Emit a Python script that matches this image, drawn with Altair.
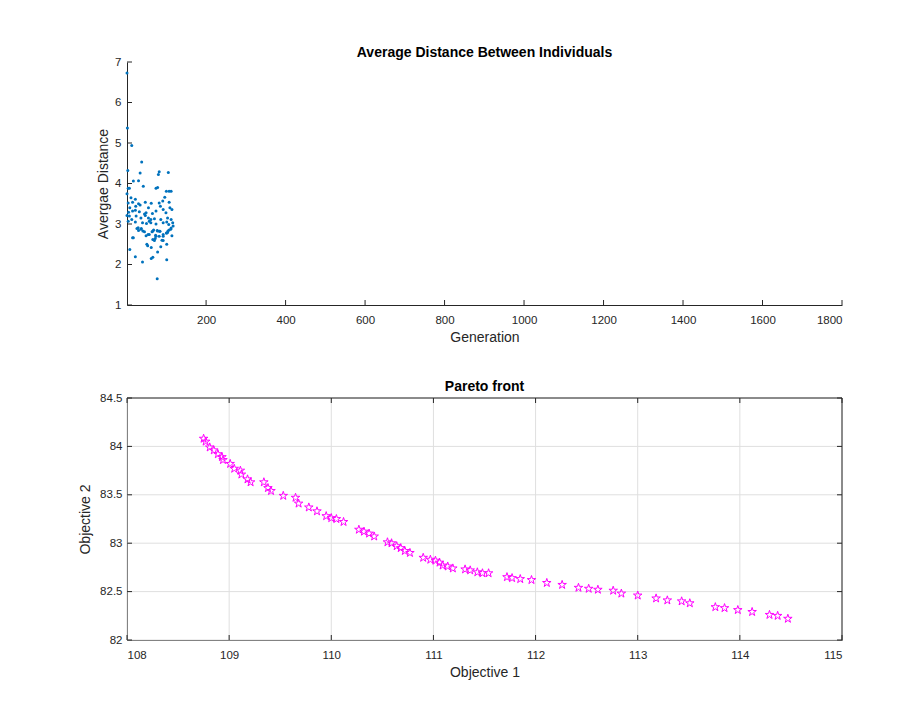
import altair as alt
import pandas as pd

# ---------- data: top panel (average distance per generation) ----------
gen = [1, 2, 13, 38, 3, 34, 82, 80, 105, 17, 30, 42, 4, 7, 74, 78, 100, 107, 112, 1,
       11, 22, 96, 4, 15, 30, 47, 62, 82, 91, 107, 8, 23, 34, 55, 85, 92, 109, 5, 15,
       22, 32, 45, 49, 65, 74, 99, 114, 1, 7, 13, 24, 36, 47, 55, 61, 70, 86, 103, 112,
       116, 4, 22, 40, 50, 57, 61, 74, 92, 101, 106, 26, 30, 36, 45, 64, 68, 78, 84, 101,
       107, 112, 49, 57, 74, 82, 92, 15, 66, 72, 89, 103, 114, 51, 53, 86, 62, 8, 78, 101,
       22, 62, 66, 40, 101, 77, 29, 37, 41, 54, 66, 77, 83, 73, 92, 100, 104, 111, 117, 17,
       70, 92]
avg_dist = [6.73, 5.37, 4.94, 4.53, 4.32, 4.26, 4.29, 4.22, 4.27, 4.06, 4.07, 3.93, 3.88, 3.88, 3.88, 3.90, 3.81, 3.81, 3.81, 3.75,
            3.65, 3.61, 3.66, 3.52, 3.54, 3.50, 3.54, 3.51, 3.52, 3.57, 3.54, 3.40, 3.44, 3.47, 3.40, 3.44, 3.36, 3.40, 3.29, 3.32,
            3.34, 3.30, 3.25, 3.28, 3.26, 3.32, 3.28, 3.36, 3.21, 3.20, 3.11, 3.20, 3.15, 3.21, 3.15, 3.11, 3.13, 3.11, 3.15, 3.11,
            3.03, 3.07, 3.05, 3.03, 3.01, 3.07, 3.03, 3.00, 3.03, 3.05, 2.99, 2.89, 2.84, 2.87, 2.81, 2.81, 2.85, 2.83, 2.82, 2.78,
            2.85, 2.90, 2.71, 2.74, 2.70, 2.70, 2.70, 2.66, 2.62, 2.64, 2.60, 2.79, 2.71, 2.50, 2.46, 2.44, 2.42, 2.37, 2.31, 2.50,
            2.19, 2.15, 2.18, 2.06, 2.12, 1.65, 2.91, 2.89, 2.83, 2.74, 2.83, 2.84, 2.82, 2.72, 2.74, 2.78, 2.83, 2.87, 2.95, 2.66,
            2.59, 2.59]

# ---------- data: bottom panel (Pareto front) ----------
obj1 = [108.75, 108.77, 108.81, 108.85, 108.89, 108.93, 108.94, 109.01, 109.05, 109.11,
        109.12, 109.18, 109.21, 109.34, 109.38, 109.41, 109.53, 109.65, 109.68, 109.78,
        109.86, 109.95, 110.00, 110.05, 110.12, 110.27, 110.32, 110.37, 110.42, 110.55,
        110.59, 110.64, 110.68, 110.72, 110.77, 110.90, 110.97, 111.02, 111.06, 111.09,
        111.14, 111.19, 111.31, 111.36, 111.43, 111.48, 111.54, 111.72, 111.77, 111.85,
        111.96, 112.11, 112.26, 112.42, 112.52, 112.61, 112.76, 112.84, 113.00, 113.18,
        113.29, 113.43, 113.51, 113.76, 113.85, 113.98, 114.12, 114.29, 114.37, 114.47]
obj2 = [84.08, 84.05, 83.99, 83.96, 83.92, 83.89, 83.86, 83.82, 83.77, 83.75,
        83.71, 83.66, 83.63, 83.63, 83.57, 83.54, 83.49, 83.47, 83.41, 83.37,
        83.33, 83.28, 83.26, 83.25, 83.22, 83.14, 83.12, 83.10, 83.07, 83.01,
        83.00, 82.97, 82.95, 82.92, 82.90, 82.85, 82.83, 82.82, 82.80, 82.77,
        82.76, 82.74, 82.73, 82.72, 82.70, 82.69, 82.69, 82.65, 82.64, 82.63,
        82.62, 82.59, 82.57, 82.54, 82.53, 82.52, 82.51, 82.48, 82.46, 82.43,
        82.41, 82.40, 82.38, 82.34, 82.33, 82.31, 82.29, 82.26, 82.25, 82.22]

top_xticks = [200, 400, 600, 800, 1000, 1200, 1400, 1600, 1800]
top_yticks = [1, 2, 3, 4, 5, 6, 7]
bot_xticks = [108, 109, 110, 111, 112, 113, 114, 115]
bot_yticks = [82, 82.5, 83, 83.5, 84, 84.5]
titles = ["Average Distance Between Individuals", "Pareto front"]

AX = "#262626"
GRID = "#DFDFDF"
FONT = "Liberation Sans"
# five-pointed star outline (unit box -1..1)
STAR = ("M0,-1L0.225,-0.309L0.951,-0.309L0.363,0.118L0.588,0.809L0,0.382"
        "L-0.588,0.809L-0.363,0.118L-0.951,-0.309L-0.225,-0.309Z")

# layout of the single shared view (pixels inside the plot area)
W = 715
H = 578
TOP_H = 243          # top panel occupies y 0..243
BOT_Y0 = 336         # bottom panel occupies y 336..578
TK = 5               # inward tick length

xs_top = alt.Scale(domain=[1, 1800], range=[0, W], nice=False, zero=False)
ys_top = alt.Scale(domain=[1, 7], range=[TOP_H, 0], nice=False, zero=False)
xs_bot = alt.Scale(domain=[108, 115], range=[0, W], nice=False, zero=False)
ys_bot = alt.Scale(domain=[82, 84.5], range=[H, BOT_Y0], nice=False, zero=False)

df_top = pd.DataFrame({"gen": gen, "dist": avg_dist})
df_bot = pd.DataFrame({"o1": obj1, "o2": obj2})


def main_axis(values, title, orient, pad, offset=0, fmt="~g", tpad=5):
    return alt.Axis(values=values, title=title, orient=orient, offset=offset, grid=False,
                    ticks=False, domain=True, domainColor=AX, labelColor=AX, labelFont=FONT,
                    labelFontSize=11.5, titleFont=FONT, titleFontSize=14, format=fmt,
                    titleFontWeight="normal", titleColor=AX, labelPadding=pad, titlePadding=tpad)


def vrules(values, scale, y0, y1, color=AX):
    return alt.Chart(pd.DataFrame({"v": values})).mark_rule(color=color, strokeWidth=1).encode(
        x=alt.X("v:Q", scale=scale, axis=None), y=alt.value(y0), y2=alt.value(y1))


def hrules(values, scale, x0, x1, color=AX):
    return alt.Chart(pd.DataFrame({"v": values})).mark_rule(color=color, strokeWidth=1).encode(
        y=alt.Y("v:Q", scale=scale, axis=None), x=alt.value(x0), x2=alt.value(x1))


# bottom panel grid (under the markers)
grid_x = vrules(bot_xticks, xs_bot, BOT_Y0, H, GRID)
grid_y = hrules(bot_yticks, ys_bot, 0, W, GRID)

# top panel: scatter with left/bottom axes
top_pts = alt.Chart(df_top).mark_circle(size=9, color="#0072BD", opacity=1).encode(
    x=alt.X("gen:Q", scale=xs_top,
            axis=main_axis(top_xticks, "Generation", "bottom", 9, offset=-(H - TOP_H), fmt="d")),
    y=alt.Y("dist:Q", scale=ys_top,
            axis=main_axis(top_yticks, "Avergae Distance", "left", 6, fmt="d", tpad=4)),
)

# bottom panel: Pareto front stars
bot_pts = alt.Chart(df_bot).mark_point(shape=STAR, size=80, color="#FF00FF", filled=False,
                                        strokeWidth=1, opacity=1).encode(
    x=alt.X("o1:Q", scale=xs_bot, axis=main_axis(bot_xticks, "Objective 1", "bottom", 9, fmt="d")),
    y=alt.Y("o2:Q", scale=ys_bot, axis=main_axis(bot_yticks, "Objective 2", "left", 5, tpad=7)),
)

# box edges (top/right) of the bottom panel
box_top = hrules([bot_yticks[-1]], ys_bot, 0, W)
box_right = vrules([bot_xticks[-1]], xs_bot, BOT_Y0, H)

# inward ticks
tk_top_x = vrules(top_xticks, xs_top, TOP_H, TOP_H - TK)
tk_top_y = hrules(top_yticks, ys_top, 0, TK)
tk_bot_xb = vrules(bot_xticks, xs_bot, H, H - TK)
tk_bot_xt = vrules(bot_xticks, xs_bot, BOT_Y0, BOT_Y0 + TK)
tk_bot_yl = hrules(bot_yticks, ys_bot, 0, TK)
tk_bot_yr = hrules(bot_yticks, ys_bot, W, W - TK)

# second panel title as text
pareto_title = alt.Chart(pd.DataFrame({"t": [titles[1]]})).mark_text(
    font=FONT, fontSize=14, fontWeight="bold", color="#000000", baseline="middle", align="center"
).encode(text="t:N", x=alt.value(W / 2), y=alt.value(BOT_Y0 - 11))

chart = alt.layer(
    grid_x, grid_y, top_pts, bot_pts, box_top, box_right,
    tk_top_x, tk_top_y, tk_bot_xb, tk_bot_xt, tk_bot_yl, tk_bot_yr, pareto_title,
).resolve_scale(x="independent", y="independent").resolve_axis(
    x="independent", y="independent"
).properties(
    width=W, height=H,
    title=alt.TitleParams(titles[0], font=FONT, fontSize=14, fontWeight="bold",
                          color="#000000", offset=-4, anchor="middle", frame="group"),
    padding={"left": 70, "top": 38, "right": 5, "bottom": 5},
).configure_view(stroke=None)

chart.save("out.html", embed_options={"renderer": "svg", "actions": False})
